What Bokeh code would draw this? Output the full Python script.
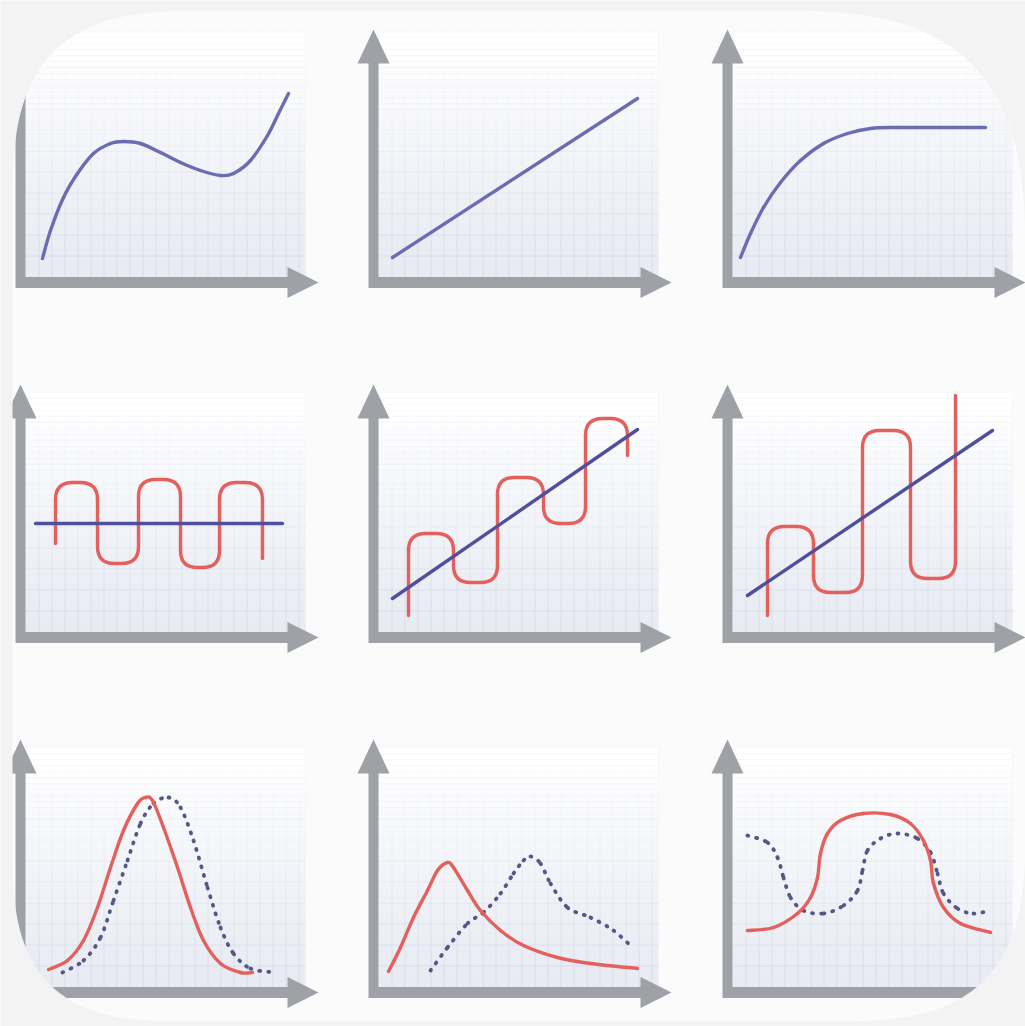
import numpy as np
from bokeh.plotting import figure
from bokeh.models import Range1d
from bokeh.embed import file_html
from bokeh.resources import INLINE

W, H = 1025, 1026

# ---------------- layout of the 3x3 pictogram ----------------
COL_X0 = [15, 368, 722]        # left edge of each y-axis bar (px)
ROW_AXIS = [282, 637, 992]     # centre of each x-axis bar (px)
GRID_TOP = [252, 246, 246]     # top of grid area (panel units)

# ---------------- data (panel units, origin at the axes corner) ----------------
# Row 1
cubic_x = [27, 35, 48, 62, 78, 95, 108, 125, 145, 165, 185, 205, 218, 235, 252, 263, 273]
cubic_y = [24, 52, 85, 109, 129, 139, 141, 139, 130, 120, 112, 107, 109, 122, 147, 169, 189]
linear_x = [24, 269]
linear_y = [25, 184]
sat_x = [18, 28, 41, 58, 78, 101, 125, 148, 175, 263]
sat_y = [25, 49, 75, 100, 122, 139, 149, 154, 155, 155]

# Row 2
flat_x = [20, 267]
flat_y = [114, 114]
wave_flat_x = [40, 40, 82, 82, 123, 123, 165, 165, 204, 204, 247, 247]
wave_flat_y = [94, 155, 155, 74, 74, 158, 158, 70, 70, 155, 155, 79]
trend_x = [24, 269]
trend_y = [39, 208]
wave_trend_x = [40, 40, 85, 85, 129, 129, 175, 175, 217, 217, 259, 259]
wave_trend_y = [22, 104, 104, 55, 55, 160, 160, 114, 114, 219, 219, 182]
trend2_x = [25, 270]
trend2_y = [42, 207]
wave_grow_x = [45, 45, 91, 91, 140, 140, 188, 188, 233, 233]
wave_grow_y = [22, 111, 111, 45, 45, 207, 207, 59, 59, 242]

# Row 3
bell_x = [33, 52, 68, 82, 95, 108, 122, 130, 137, 148, 162, 175, 188, 205, 225, 237]
bell_y = [23, 32, 52, 85, 125, 162, 189, 195, 192, 165, 125, 85, 52, 29, 20, 20]
bell_dot_x = [47, 68, 85, 98, 112, 125, 138, 153, 165, 178, 192, 205, 218, 235, 260]
bell_dot_y = [20, 32, 55, 92, 132, 169, 189, 195, 185, 152, 105, 65, 39, 24, 20]
skew_x = [20, 32, 45, 59, 69, 79, 85, 99, 112, 132, 155, 189, 222, 269]
skew_y = [21, 45, 75, 102, 122, 130, 125, 102, 82, 62, 47, 35, 29, 24]
skew_dot_x = [62, 79, 99, 115, 132, 145, 155, 162, 172, 182, 199, 222, 245, 265]
skew_dot_y = [22, 45, 69, 80, 99, 119, 132, 136, 129, 109, 85, 75, 62, 44]
plat_x = [25, 51, 75, 88, 95, 98, 105, 118, 141, 168, 188, 201, 208, 211, 221, 238, 268]
plat_y = [62, 65, 79, 95, 115, 139, 159, 172, 179, 178, 169, 152, 132, 109, 85, 69, 60]
plat_dot_x = [25, 45, 55, 61, 68, 81, 101, 121, 135, 140, 145, 158, 175, 195, 208, 215, 221, 235, 251, 268]
plat_dot_y = [157, 150, 135, 115, 95, 82, 79, 87, 102, 122, 142, 154, 159, 154, 140, 119, 99, 84, 79, 82]

# ---------------- styles ----------------
AXIS_GRAY = "#9ea1a6"
BLUE1 = "#6c6cb2"
BLUE2 = "#4f4f9d"
RED = "#e4605c"
DOT = "#565688"

panels = [
    (0, 0, [(cubic_x, cubic_y, "blue1")]),
    (0, 1, [(linear_x, linear_y, "blue1")]),
    (0, 2, [(sat_x, sat_y, "blue1")]),
    (1, 0, [(wave_flat_x, wave_flat_y, "wave"), (flat_x, flat_y, "blue2")]),
    (1, 1, [(wave_trend_x, wave_trend_y, "wave"), (trend_x, trend_y, "blue2")]),
    (1, 2, [(wave_grow_x, wave_grow_y, "wave"), (trend2_x, trend2_y, "blue2")]),
    (2, 0, [(bell_dot_x, bell_dot_y, "dot"), (bell_x, bell_y, "red")]),
    (2, 1, [(skew_dot_x, skew_dot_y, "dot"), (skew_x, skew_y, "red")]),
    (2, 2, [(plat_dot_x, plat_dot_y, "dot"), (plat_x, plat_y, "red")]),
]

p = figure(width=W, height=H, x_range=Range1d(0, W), y_range=Range1d(H, 0),
           output_backend="svg", toolbar_location=None, min_border=0,
           x_axis_location=None, y_axis_location=None)
p.outline_line_color = None
p.grid.visible = False
p.background_fill_color = "#fbfbfc"
p.border_fill_color = "#f3f3f3"

for c, x0 in enumerate(COL_X0):
    p.extra_x_ranges[f"c{c}"] = Range1d(-x0, W - x0)
for r, ay in enumerate(ROW_AXIS):
    p.extra_y_ranges[f"r{r}"] = Range1d(ay - H, ay)


def smooth(xs, ys, **kw):
    """Draw a smooth curve through the points with Bokeh's bezier glyph."""
    P = np.column_stack([xs, ys]).astype(float)
    n = len(P)
    if n == 2:
        p.line(P[:, 0], P[:, 1], line_cap="round", **kw)
        return
    Q = np.vstack([P[0], P, P[-1]])
    x0, y0, x1, y1, cx0, cy0, cx1, cy1 = ([] for _ in range(8))
    for i in range(n - 1):
        a, b, c, d = Q[i], Q[i + 1], Q[i + 2], Q[i + 3]
        k1 = b + (c - a) / 6.0
        k2 = c - (d - b) / 6.0
        x0.append(b[0]); y0.append(b[1]); x1.append(c[0]); y1.append(c[1])
        cx0.append(k1[0]); cy0.append(k1[1]); cx1.append(k2[0]); cy1.append(k2[1])
    p.bezier(x0=x0, y0=y0, x1=x1, y1=y1, cx0=cx0, cy0=cy0, cx1=cx1, cy1=cy1,
             line_cap="round", **kw)


def rounded_wave(xs, ys, R, **kw):
    xs = np.asarray(xs, float)
    ys = np.asarray(ys, float)
    sx0, sy0, sx1, sy1 = [], [], [], []
    qx0, qy0, qx1, qy1, qcx, qcy = [], [], [], [], [], []
    cur = np.array([xs[0], ys[0]])
    for i in range(1, len(xs) - 1):
        v = np.array([xs[i], ys[i]])
        a = np.array([xs[i - 1], ys[i - 1]])
        b = np.array([xs[i + 1], ys[i + 1]])
        din, dout = v - a, b - v
        lin, lout = np.hypot(*din), np.hypot(*dout)
        rr = min(R, lin / 2, lout / 2)
        pin = v - din / lin * rr
        pout = v + dout / lout * rr
        sx0.append(cur[0]); sy0.append(cur[1]); sx1.append(pin[0]); sy1.append(pin[1])
        qx0.append(pin[0]); qy0.append(pin[1]); qx1.append(pout[0]); qy1.append(pout[1])
        qcx.append(v[0]); qcy.append(v[1])
        cur = pout
    sx0.append(cur[0]); sy0.append(cur[1]); sx1.append(xs[-1]); sy1.append(ys[-1])
    p.segment(sx0, sy0, sx1, sy1, line_cap="round", **kw)
    p.quadratic(x0=qx0, y0=qy0, x1=qx1, y1=qy1, cx=qcx, cy=qcy, **kw)


for r, c, curves in panels:
    rn = dict(x_range_name=f"c{c}", y_range_name=f"r{r}")
    top = GRID_TOP[r]
    # panel base
    p.quad(left=10, right=290, bottom=5, top=top, fill_color="#e6e9f2",
           line_color=None, **rn)
    # grid
    vx = [10.5 + 13 * k for k in range(1, 22)]
    hy = [5.5 + 21 * k for k in range(1, 12) if 5.5 + 21 * k < top]
    p.segment(x0=vx, y0=[5] * len(vx), x1=vx, y1=[top] * len(vx),
              line_color="#d3d8e4", line_width=1, **rn)
    p.segment(x0=[10] * len(hy), y0=hy, x1=[290] * len(hy), y1=hy,
              line_color="#d3d8e4", line_width=1, **rn)
    # white fade towards the top
    edges = list(range(5, top, 6)) + [top]
    bots = edges[:-1]
    tops = edges[1:]
    span = top - 5
    alphas = [min(1.0, 0.1 + ((b - 5) / span) ** 1.1 * 0.95) for b in bots]
    p.quad(left=10, right=290, bottom=bots, top=tops, fill_color="white",
           fill_alpha=alphas, line_color=None, **rn)

    # axes: L-shaped arrow
    ax = [0, 272, 272, 303, 272, 272, 10, 10, 21, 5, -11, 0]
    ay_ = [-5.5, -5.5, -15.5, 0, 15.5, 5.5, 5.5, 219, 219, 253, 219, 219]
    p.patch(ax, ay_, fill_color=AXIS_GRAY, line_color=None, **rn)

    for xs, ys, kind in curves:
        if kind == "blue1":
            smooth(xs, ys, line_color=BLUE1, line_width=3.4, **rn)
        elif kind == "blue2":
            smooth(xs, ys, line_color=BLUE2, line_width=3.4, **rn)
        elif kind == "red":
            smooth(xs, ys, line_color=RED, line_width=3.4, **rn)
        elif kind == "dot":
            smooth(xs, ys, line_color=DOT, line_width=3.8, line_dash="1 8", **rn)
        elif kind == "wave":
            rounded_wave(xs, ys, 17, line_color=RED, line_width=3.4, **rn)

# icon-shaped mask (squircle-like corners), hiding everything outside the icon
L, T, Rr, B = 12, 10, 1025, 1021
S_TL, S_TR, S_BR, S_BL = 200, 260, 200, 180
n_exp = 3.0
tt = np.linspace(0, np.pi / 2, 40)
cu = np.cos(tt) ** (2 / n_exp)
su = np.sin(tt) ** (2 / n_exp)
hx, hy = [], []
# top-left: from left edge to top edge
cx, cy = L + S_TL, T + S_TL
hx += list(cx - S_TL * cu); hy += list(cy - S_TL * su)
# top-right: from top edge to right edge
cx, cy = Rr - S_TR, T + S_TR
hx += list((cx + S_TR * cu)[::-1]); hy += list((cy - S_TR * su)[::-1])
# bottom-right: from right edge to bottom edge
cx, cy = Rr - S_BR, B - S_BR
hx += list(cx + S_BR * cu); hy += list(cy + S_BR * su)
# bottom-left: from bottom edge to left edge
cx, cy = L + S_BL, B - S_BL
hx += list((cx - S_BL * cu)[::-1]); hy += list((cy + S_BL * su)[::-1])
hx = hx[::-1]
hy = hy[::-1]
p.multi_polygons(xs=[[[[-5, W + 5, W + 5, -5], hx]]], ys=[[[[-5, -5, H + 5, H + 5], hy]]],
                 fill_color="#f3f3f3", line_color=None)

open("out.html", "w").write(file_html(p, INLINE))
